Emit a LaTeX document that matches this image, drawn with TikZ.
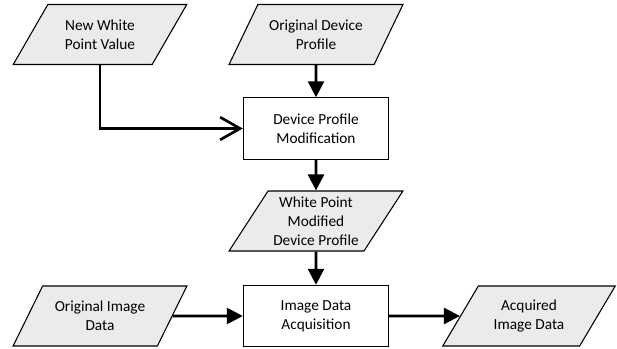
\documentclass[tikz,border=0pt]{standalone}
\usepackage{fontspec}
\setmainfont{Carlito}
\usetikzlibrary{shapes.geometric, arrows.meta}

\begin{document}
\begin{tikzpicture}[
    x=0.75pt, y=-0.75pt,
    io/.style={trapezium, trapezium left angle=59, trapezium right angle=121, trapezium stretches=true, minimum width=130.5pt, minimum height=45pt, inner xsep=0pt, draw=black, line width=0.8pt, fill=gray!16, align=center, font=\fontsize{11.5pt}{14.3pt}\selectfont},
    process/.style={rectangle, minimum width=109pt, minimum height=46pt, draw=black, line width=0.8pt, fill=white, align=center, font=\fontsize{11.5pt}{14.3pt}\selectfont},
    flow/.style={-{Triangle[length=12pt,width=12pt]}, line width=2pt},
    feed/.style={-{Straight Barb[length=15pt,width=17pt,line width=2pt]}, line width=2pt}
]
    \useasboundingbox (0,0) rectangle (617,349);

    % inputs on top
    \node[io] (whitept) at (100, 34.5) {New White\\Point Value};
    \node[io] (origprof) at (316, 34.5) {Original Device\\Profile};

    % profile modification
    \node[process] (modify) at (316, 128.5) {Device Profile\\Modification};
    \draw[flow] (origprof.south) -- (modify.north);
    \draw[feed] (whitept.south) |- (modify.west);

    \node[io] (wpprof) at (316, 221) {White Point\\Modified\\Device Profile};
    \draw[flow] (modify.south) -- (wpprof.south |- wpprof.north);

    % acquisition row
    \node[process] (acquire) at (316, 316) {Image Data\\Acquisition};
    \node[io] (origimg) at (100, 316) {Original Image\\Data};
    \node[io] (acqimg) at (529, 316) {Acquired\\Image Data};
    \draw[flow] (wpprof.south) -- (acquire.north);
    \draw[flow] (origimg) -- (acquire);
    \draw[flow] (acquire) -- (acqimg);

\end{tikzpicture}
\end{document}
